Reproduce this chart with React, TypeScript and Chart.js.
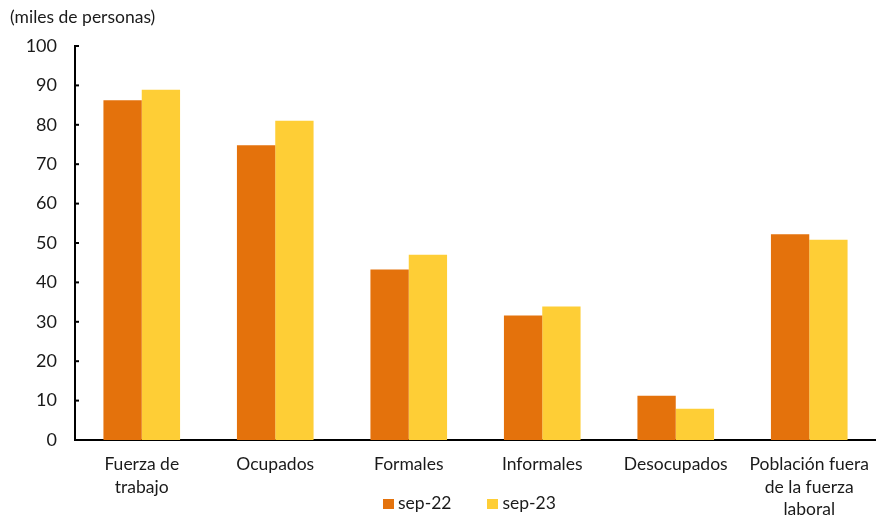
import React, { useEffect, useRef } from "react";
import { Chart, registerables } from "chart.js";

Chart.register(...registerables);

const categories: (string | string[])[] = [
  ["Fuerza de", "trabajo"],
  "Ocupados",
  "Formales",
  "Informales",
  "Desocupados",
  ["Población fuera", "de la fuerza", "laboral"],
];
const seriesNames = ["sep-22", "sep-23"];
const sep22 = [86.2, 74.8, 43.3, 31.6, 11.2, 52.2];
const sep23 = [88.9, 81.0, 47.0, 33.9, 7.9, 50.8];
const seriesColors = ["#E4720C", "#FECE36"];
const unitLabel = "(miles de personas)";
const yMin = 0;
const yMax = 100;
const yStep = 10;

const FONT = "Lato, 'Open Sans', sans-serif";
const TEXT = "#1a1a1a";

const inwardTicks = {
  id: "inwardTicks",
  afterDraw(chart: any) {
    const y = chart.scales.y;
    const ctx = chart.ctx;
    const left = chart.chartArea.left;
    ctx.save();
    ctx.strokeStyle = "#000";
    ctx.lineWidth = 2;
    y.ticks.forEach((t: any) => {
      const py = y.getPixelForValue(t.value);
      ctx.beginPath();
      ctx.moveTo(left - 1, py);
      ctx.lineTo(left + 4, py);
      ctx.stroke();
    });
    ctx.restore();
  },
};

export default function App() {
  const ref = useRef<HTMLCanvasElement | null>(null);
  useEffect(() => {
    if (!ref.current) return;
    const chart = new Chart(ref.current, {
      type: "bar",
      data: {
        labels: categories as any,
        datasets: [
          { label: seriesNames[0], data: sep22, backgroundColor: seriesColors[0] },
          { label: seriesNames[1], data: sep23, backgroundColor: seriesColors[1] },
        ],
      },
      options: {
        animation: false,
        responsive: false,
        maintainAspectRatio: false,
        layout: { padding: { top: 46, left: 0, right: -7, bottom: 0 } },
        datasets: { bar: { barPercentage: 1, categoryPercentage: 0.574 } } as any,
        plugins: {
          legend: { display: false },
          title: { display: false },
          tooltip: { enabled: false },
        },
        scales: {
          x: {
            grid: { display: false, drawTicks: false },
            border: { display: true, color: "#000", width: 2 },
            ticks: {
              color: TEXT,
              font: { family: FONT, size: 17.5, lineHeight: 1.29 },
              padding: 13,
              maxRotation: 0,
              autoSkip: false,
            },
            afterFit: (s: any) => {
              s.height = 77;
              s.paddingLeft = 0;
              s.paddingRight = 0;
            },
          },
          y: {
            min: yMin,
            max: yMax,
            grid: { display: false, drawTicks: false },
            border: { display: true, color: "#000", width: 2 },
            ticks: {
              stepSize: yStep,
              color: TEXT,
              font: { family: FONT, size: 18 },
              padding: 18,
            },
            afterFit: (s: any) => {
              s.width = 75;
            },
          },
        },
      },
      plugins: [inwardTicks],
    });
    return () => chart.destroy();
  }, []);

  return (
    <div style={{ position: "fixed", left: 0, top: 0, width: 876, height: 517, background: "#fff", overflow: "hidden" }}>
      <canvas ref={ref} width={876} height={517} style={{ position: "absolute", left: 0, top: 0, width: 876, height: 517 }} />
      <div style={{ position: "absolute", left: 10, top: 6, fontFamily: FONT, fontSize: 17.5, color: TEXT, whiteSpace: "nowrap" }}>
        {unitLabel}
      </div>
      <div style={{ position: "absolute", left: 383, top: 492, display: "flex", alignItems: "center", fontFamily: FONT, fontSize: 17.5, color: TEXT, whiteSpace: "nowrap" }}>
        {seriesNames.map((n, i) => (
          <div key={n} style={{ display: "flex", alignItems: "center", marginRight: i === 0 ? 36 : 0 }}>
            <span style={{ display: "inline-block", width: 11, height: 10, background: seriesColors[i], marginRight: 4, marginTop: 3 }} />
            <span>{n}</span>
          </div>
        ))}
      </div>
    </div>
  );
}
